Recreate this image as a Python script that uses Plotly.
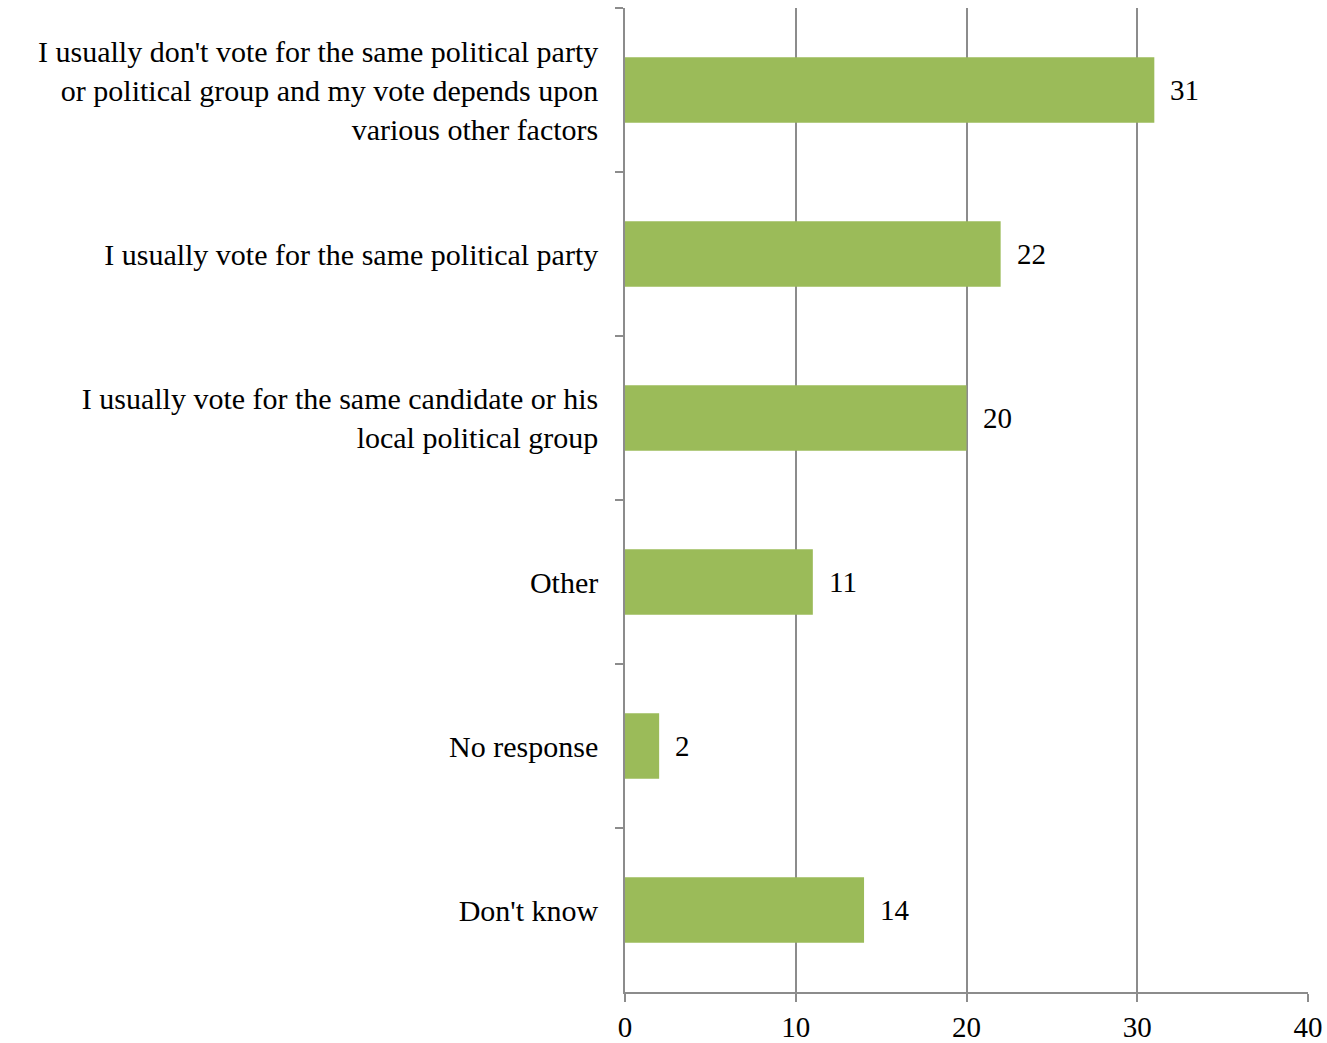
import plotly.graph_objects as go

categories = [
    "I usually don't vote for the same political party<br>or political group and my vote depends upon<br>various other factors",
    "I usually vote for the same political party",
    "I usually vote for the same candidate or his<br>local political group",
    "Other",
    "No response",
    "Don't know",
]
values = [31, 22, 20, 11, 2, 14]
x_ticks = [0, 10, 20, 30, 40]

FONT = "Liberation Serif"
GRAY = "#8c8c8c"
FS = 30

fig = go.Figure()
fig.add_trace(go.Bar(
    x=values, y=categories, orientation="h",
    marker=dict(color="#9BBB59", line=dict(width=0)),
    width=0.4,
))
for v, c in zip(values, categories):
    fig.add_annotation(x=v, y=c, text=str(v), showarrow=False,
                       xanchor="left", xshift=14,
                       font=dict(family=FONT, size=FS - 1, color="#000000"))

fig.update_layout(
    width=1327, height=1043,
    margin=dict(l=625, r=19, t=8, b=51),
    plot_bgcolor="white", paper_bgcolor="white",
    showlegend=False,
    font=dict(family=FONT, size=FS, color="#000000"),
)
fig.update_xaxes(
    range=[0, 40], tickvals=x_ticks, ticktext=[str(t) for t in x_ticks],
    showgrid=True, gridcolor=GRAY, gridwidth=1.5,
    showline=True, linecolor=GRAY, linewidth=1.5,
    ticks="outside", ticklen=8, tickcolor=GRAY, tickwidth=1.5,
    zeroline=False, automargin=False,
    tickfont=dict(family=FONT, size=FS - 1, color="#000000"),
)
fig.update_yaxes(
    categoryorder="array", categoryarray=categories, autorange="reversed",
    showline=True, linecolor=GRAY, linewidth=1.5,
    ticks="outside", ticklen=8, tickcolor=GRAY, tickwidth=1.5,
    tickson="boundaries", showgrid=False, automargin=False,
    ticklabelstandoff=19,
    tickfont=dict(family=FONT, size=FS, color="#000000"),
)

fig.write_html(
    "out.html",
    config={"displayModeBar": False},
    post_script="document.body.style.margin='0';document.body.style.overflow='hidden';",
)
